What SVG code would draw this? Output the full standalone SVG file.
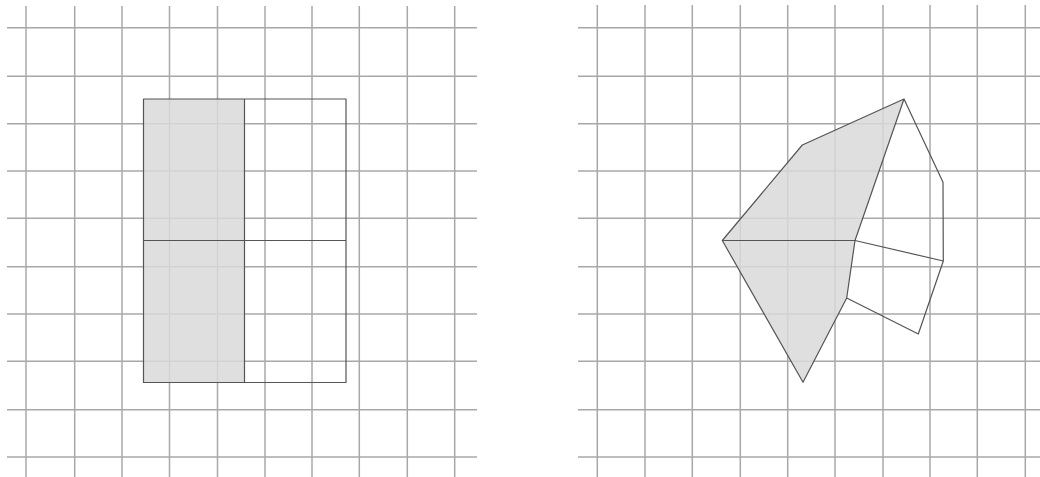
<svg xmlns="http://www.w3.org/2000/svg" width="1040" height="477" viewBox="0 0 1040 477">
<style>
.grid line{stroke:#a8a8a8;stroke-width:1.5}
.fill{fill:#d9d9d9;stroke:none}
.edge{fill:none;stroke:#555;stroke-width:1.2;stroke-linejoin:round}
</style>
<rect width="1040" height="477" fill="#fff"/>
<g id="left-grid" class="grid">
<line x1="26" y1="6" x2="26" y2="477"/><line x1="74.7" y1="6" x2="74.7" y2="477"/><line x1="122" y1="6" x2="122" y2="477"/><line x1="169.5" y1="6" x2="169.5" y2="477"/><line x1="217.5" y1="6" x2="217.5" y2="477"/><line x1="265" y1="6" x2="265" y2="477"/><line x1="312" y1="6" x2="312" y2="477"/><line x1="359.3" y1="6" x2="359.3" y2="477"/><line x1="407.3" y1="6" x2="407.3" y2="477"/><line x1="454.7" y1="6" x2="454.7" y2="477"/>
<line x1="7" y1="27.7" x2="477" y2="27.7"/><line x1="7" y1="76.3" x2="477" y2="76.3"/><line x1="7" y1="123.7" x2="477" y2="123.7"/><line x1="7" y1="171" x2="477" y2="171"/><line x1="7" y1="218.3" x2="477" y2="218.3"/><line x1="7" y1="266.7" x2="477" y2="266.7"/><line x1="7" y1="314" x2="477" y2="314"/><line x1="7" y1="361.3" x2="477" y2="361.3"/><line x1="7" y1="409.7" x2="477" y2="409.7"/><line x1="7" y1="457" x2="477" y2="457"/>
</g>
<g id="right-grid" class="grid">
<line x1="597.3" y1="5" x2="597.3" y2="477"/><line x1="645" y1="5" x2="645" y2="477"/><line x1="692.3" y1="5" x2="692.3" y2="477"/><line x1="740.3" y1="5" x2="740.3" y2="477"/><line x1="787.7" y1="5" x2="787.7" y2="477"/><line x1="835" y1="5" x2="835" y2="477"/><line x1="883" y1="5" x2="883" y2="477"/><line x1="930" y1="5" x2="930" y2="477"/><line x1="977.3" y1="5" x2="977.3" y2="477"/><line x1="1025.3" y1="5" x2="1025.3" y2="477"/>
<line x1="578" y1="27.7" x2="1040" y2="27.7"/><line x1="578" y1="76.3" x2="1040" y2="76.3"/><line x1="578" y1="123.7" x2="1040" y2="123.7"/><line x1="578" y1="171" x2="1040" y2="171"/><line x1="578" y1="218.3" x2="1040" y2="218.3"/><line x1="578" y1="266.7" x2="1040" y2="266.7"/><line x1="578" y1="314" x2="1040" y2="314"/><line x1="578" y1="361.3" x2="1040" y2="361.3"/><line x1="578" y1="409.7" x2="1040" y2="409.7"/><line x1="578" y1="457" x2="1040" y2="457"/>
</g>
<g id="left-shape">
<rect class="fill" x="143.5" y="99" width="101" height="283.5" fill-opacity="0.85"/>
<rect class="edge" x="143.5" y="99" width="202.5" height="283.5"/>
<line class="edge" x1="244.5" y1="99" x2="244.5" y2="382.5"/>
<line class="edge" x1="143.5" y1="240.5" x2="346" y2="240.5"/>
</g>
<g id="right-shape">
<polygon class="fill" fill-opacity="0.85" points="904,99 802.3,145 722.3,240.5 803,382.3 846.7,298 855,240.5"/>
<polygon class="edge" points="904,99 802.3,145 722.3,240.5 803,382.3 846.7,298 855,240.5"/>
<polyline class="edge" points="904,99 943,182.3 943.3,261 918.3,334 846.7,298"/>
<line class="edge" x1="722.3" y1="240.5" x2="855" y2="240.5"/>
<line class="edge" x1="855" y1="240.5" x2="943.3" y2="261"/>
</g>
</svg>
